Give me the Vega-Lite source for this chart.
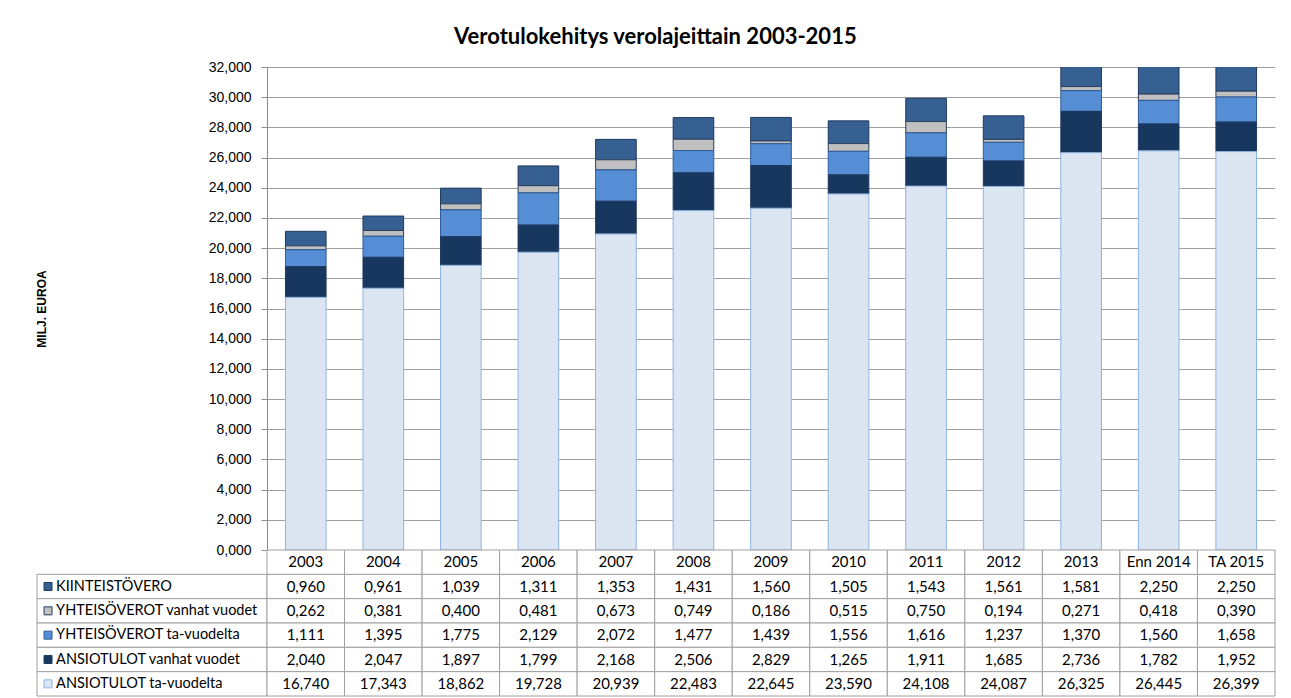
{
  "$schema": "https://vega.github.io/schema/vega-lite/v6.json",
  "padding": {"left": 35, "top": 26, "right": 12, "bottom": 0},
  "title": {"text": "Verotulokehitys verolajeittain 2003-2015", "font": "Lato", "fontSize": 22, "fontWeight": "bold", "color": "#000000", "offset": 11, "anchor": "middle"},
  "config": {
    "view": {"stroke": null},
    "locale": {"number": {"decimal": ",", "thousands": ".", "grouping": [3], "currency": ["", " €"]}}
  },
  "datasets": {
    "tax": [
      {"year": "2003", "series": "KIINTEISTÖVERO", "k": 5, "value": 0.960},
      {"year": "2003", "series": "YHTEISÖVEROT vanhat vuodet", "k": 4, "value": 0.262},
      {"year": "2003", "series": "YHTEISÖVEROT ta-vuodelta", "k": 3, "value": 1.111},
      {"year": "2003", "series": "ANSIOTULOT vanhat vuodet", "k": 2, "value": 2.040},
      {"year": "2003", "series": "ANSIOTULOT ta-vuodelta", "k": 1, "value": 16.740},
      {"year": "2004", "series": "KIINTEISTÖVERO", "k": 5, "value": 0.961},
      {"year": "2004", "series": "YHTEISÖVEROT vanhat vuodet", "k": 4, "value": 0.381},
      {"year": "2004", "series": "YHTEISÖVEROT ta-vuodelta", "k": 3, "value": 1.395},
      {"year": "2004", "series": "ANSIOTULOT vanhat vuodet", "k": 2, "value": 2.047},
      {"year": "2004", "series": "ANSIOTULOT ta-vuodelta", "k": 1, "value": 17.343},
      {"year": "2005", "series": "KIINTEISTÖVERO", "k": 5, "value": 1.039},
      {"year": "2005", "series": "YHTEISÖVEROT vanhat vuodet", "k": 4, "value": 0.400},
      {"year": "2005", "series": "YHTEISÖVEROT ta-vuodelta", "k": 3, "value": 1.775},
      {"year": "2005", "series": "ANSIOTULOT vanhat vuodet", "k": 2, "value": 1.897},
      {"year": "2005", "series": "ANSIOTULOT ta-vuodelta", "k": 1, "value": 18.862},
      {"year": "2006", "series": "KIINTEISTÖVERO", "k": 5, "value": 1.311},
      {"year": "2006", "series": "YHTEISÖVEROT vanhat vuodet", "k": 4, "value": 0.481},
      {"year": "2006", "series": "YHTEISÖVEROT ta-vuodelta", "k": 3, "value": 2.129},
      {"year": "2006", "series": "ANSIOTULOT vanhat vuodet", "k": 2, "value": 1.799},
      {"year": "2006", "series": "ANSIOTULOT ta-vuodelta", "k": 1, "value": 19.728},
      {"year": "2007", "series": "KIINTEISTÖVERO", "k": 5, "value": 1.353},
      {"year": "2007", "series": "YHTEISÖVEROT vanhat vuodet", "k": 4, "value": 0.673},
      {"year": "2007", "series": "YHTEISÖVEROT ta-vuodelta", "k": 3, "value": 2.072},
      {"year": "2007", "series": "ANSIOTULOT vanhat vuodet", "k": 2, "value": 2.168},
      {"year": "2007", "series": "ANSIOTULOT ta-vuodelta", "k": 1, "value": 20.939},
      {"year": "2008", "series": "KIINTEISTÖVERO", "k": 5, "value": 1.431},
      {"year": "2008", "series": "YHTEISÖVEROT vanhat vuodet", "k": 4, "value": 0.749},
      {"year": "2008", "series": "YHTEISÖVEROT ta-vuodelta", "k": 3, "value": 1.477},
      {"year": "2008", "series": "ANSIOTULOT vanhat vuodet", "k": 2, "value": 2.506},
      {"year": "2008", "series": "ANSIOTULOT ta-vuodelta", "k": 1, "value": 22.483},
      {"year": "2009", "series": "KIINTEISTÖVERO", "k": 5, "value": 1.560},
      {"year": "2009", "series": "YHTEISÖVEROT vanhat vuodet", "k": 4, "value": 0.186},
      {"year": "2009", "series": "YHTEISÖVEROT ta-vuodelta", "k": 3, "value": 1.439},
      {"year": "2009", "series": "ANSIOTULOT vanhat vuodet", "k": 2, "value": 2.829},
      {"year": "2009", "series": "ANSIOTULOT ta-vuodelta", "k": 1, "value": 22.645},
      {"year": "2010", "series": "KIINTEISTÖVERO", "k": 5, "value": 1.505},
      {"year": "2010", "series": "YHTEISÖVEROT vanhat vuodet", "k": 4, "value": 0.515},
      {"year": "2010", "series": "YHTEISÖVEROT ta-vuodelta", "k": 3, "value": 1.556},
      {"year": "2010", "series": "ANSIOTULOT vanhat vuodet", "k": 2, "value": 1.265},
      {"year": "2010", "series": "ANSIOTULOT ta-vuodelta", "k": 1, "value": 23.590},
      {"year": "2011", "series": "KIINTEISTÖVERO", "k": 5, "value": 1.543},
      {"year": "2011", "series": "YHTEISÖVEROT vanhat vuodet", "k": 4, "value": 0.750},
      {"year": "2011", "series": "YHTEISÖVEROT ta-vuodelta", "k": 3, "value": 1.616},
      {"year": "2011", "series": "ANSIOTULOT vanhat vuodet", "k": 2, "value": 1.911},
      {"year": "2011", "series": "ANSIOTULOT ta-vuodelta", "k": 1, "value": 24.108},
      {"year": "2012", "series": "KIINTEISTÖVERO", "k": 5, "value": 1.561},
      {"year": "2012", "series": "YHTEISÖVEROT vanhat vuodet", "k": 4, "value": 0.194},
      {"year": "2012", "series": "YHTEISÖVEROT ta-vuodelta", "k": 3, "value": 1.237},
      {"year": "2012", "series": "ANSIOTULOT vanhat vuodet", "k": 2, "value": 1.685},
      {"year": "2012", "series": "ANSIOTULOT ta-vuodelta", "k": 1, "value": 24.087},
      {"year": "2013", "series": "KIINTEISTÖVERO", "k": 5, "value": 1.581},
      {"year": "2013", "series": "YHTEISÖVEROT vanhat vuodet", "k": 4, "value": 0.271},
      {"year": "2013", "series": "YHTEISÖVEROT ta-vuodelta", "k": 3, "value": 1.370},
      {"year": "2013", "series": "ANSIOTULOT vanhat vuodet", "k": 2, "value": 2.736},
      {"year": "2013", "series": "ANSIOTULOT ta-vuodelta", "k": 1, "value": 26.325},
      {"year": "Enn 2014", "series": "KIINTEISTÖVERO", "k": 5, "value": 2.250},
      {"year": "Enn 2014", "series": "YHTEISÖVEROT vanhat vuodet", "k": 4, "value": 0.418},
      {"year": "Enn 2014", "series": "YHTEISÖVEROT ta-vuodelta", "k": 3, "value": 1.560},
      {"year": "Enn 2014", "series": "ANSIOTULOT vanhat vuodet", "k": 2, "value": 1.782},
      {"year": "Enn 2014", "series": "ANSIOTULOT ta-vuodelta", "k": 1, "value": 26.445},
      {"year": "TA 2015", "series": "KIINTEISTÖVERO", "k": 5, "value": 2.250},
      {"year": "TA 2015", "series": "YHTEISÖVEROT vanhat vuodet", "k": 4, "value": 0.390},
      {"year": "TA 2015", "series": "YHTEISÖVEROT ta-vuodelta", "k": 3, "value": 1.658},
      {"year": "TA 2015", "series": "ANSIOTULOT vanhat vuodet", "k": 2, "value": 1.952},
      {"year": "TA 2015", "series": "ANSIOTULOT ta-vuodelta", "k": 1, "value": 26.399}
    ]
  },
  "data": {"name": "tax"},
  "columns": 2,
  "spacing": 0,
  "bounds": "flush",
  "align": "each",
  "concat": [
    {
      "width": 230,
      "height": 483,
      "transform": [{"filter": "datum.k == 0"}],
      "mark": {"type": "point", "opacity": 0},
      "encoding": {}
    },
    {
      "width": 1008,
      "height": 483,
      "mark": {"type": "bar", "clip": true, "strokeWidth": 1},
      "encoding": {
        "x": {"field": "year", "type": "nominal", "sort": null,
              "scale": {"domain": ["2003","2004","2005","2006","2007","2008","2009","2010","2011","2012","2013","Enn 2014","TA 2015"], "paddingInner": 0.476, "paddingOuter": 0.238},
              "axis": null},
        "y": {"field": "value", "type": "quantitative", "stack": "zero",
              "scale": {"domain": [0, 32], "nice": false},
              "axis": {"values": [0,2,4,6,8,10,12,14,16,18,20,22,24,26,28,30,32], "format": ".3f",
                       "title": "MILJ. EUROA", "titleFont": "Liberation Sans", "titleFontSize": 12, "titleFontWeight": "bold", "titleColor": "#000000", "titlePadding": 160,
                       "labelFont": "Liberation Sans", "labelFontSize": 14, "labelColor": "#000000", "labelPadding": 10,
                       "tickSize": 6, "tickColor": "#8c8c8c", "domainColor": "#8c8c8c", "grid": true, "gridColor": "#a0a0a0", "gridWidth": 1}},
        "color": {"field": "series", "type": "nominal",
                  "scale": {"domain": ["ANSIOTULOT ta-vuodelta","ANSIOTULOT vanhat vuodet","YHTEISÖVEROT ta-vuodelta","YHTEISÖVEROT vanhat vuodet","KIINTEISTÖVERO"],
                            "range": ["#dce6f2","#17375e","#558ed5","#c0c0c0","#376092"]},
                  "legend": null},
        "stroke": {"field": "series", "type": "nominal",
                   "scale": {"domain": ["ANSIOTULOT ta-vuodelta","ANSIOTULOT vanhat vuodet","YHTEISÖVEROT ta-vuodelta","YHTEISÖVEROT vanhat vuodet","KIINTEISTÖVERO"],
                             "range": ["#8db3e2","#1f3a60","#2f5d99","#2a3f5f","#1f3a60"]},
                   "legend": null},
        "order": {"field": "k", "type": "quantitative"}
      }
    },
    {
      "width": 230,
      "height": 146,
      "transform": [{"filter": "datum.year == '2003'"}],
      "layer": [
        {
          "mark": {"type": "rect", "fill": "#ffffff", "stroke": "#a0a0a0", "strokeWidth": 1},
          "encoding": {
            "x": {"datum": 0, "type": "quantitative", "scale": {"domain": [0, 1], "nice": false}, "axis": null},
            "x2": {"datum": 1},
            "y": {"field": "series", "type": "nominal",
                  "scale": {"domain": ["hdr","KIINTEISTÖVERO","YHTEISÖVEROT vanhat vuodet","YHTEISÖVEROT ta-vuodelta","ANSIOTULOT vanhat vuodet","ANSIOTULOT ta-vuodelta"], "paddingInner": 0, "paddingOuter": 0},
                  "axis": null}
          }
        },
        {
          "mark": {"type": "point", "shape": "square", "filled": true, "size": 64, "strokeWidth": 1, "opacity": 1},
          "encoding": {
            "x": {"datum": 0.048, "type": "quantitative"},
            "y": {"field": "series", "type": "nominal"},
            "color": {"field": "series", "type": "nominal",
                      "scale": {"domain": ["ANSIOTULOT ta-vuodelta","ANSIOTULOT vanhat vuodet","YHTEISÖVEROT ta-vuodelta","YHTEISÖVEROT vanhat vuodet","KIINTEISTÖVERO"],
                                "range": ["#dce6f2","#17375e","#558ed5","#c0c0c0","#376092"]},
                      "legend": null},
            "stroke": {"field": "series", "type": "nominal",
                       "scale": {"domain": ["ANSIOTULOT ta-vuodelta","ANSIOTULOT vanhat vuodet","YHTEISÖVEROT ta-vuodelta","YHTEISÖVEROT vanhat vuodet","KIINTEISTÖVERO"],
                                 "range": ["#8db3e2","#1f3a60","#2f5d99","#555555","#1f3a60"]},
                       "legend": null}
          }
        },
        {
          "mark": {"type": "text", "align": "left", "baseline": "middle", "font": "Lato", "fontSize": 14.5, "color": "#000000"},
          "encoding": {
            "x": {"datum": 0.083, "type": "quantitative"},
            "y": {"field": "series", "type": "nominal"},
            "text": {"field": "series", "type": "nominal"}
          }
        }
      ]
    },
    {
      "width": 1008,
      "height": 146,
      "encoding": {
        "x": {"field": "year", "type": "nominal", "sort": null,
              "scale": {"domain": ["2003","2004","2005","2006","2007","2008","2009","2010","2011","2012","2013","Enn 2014","TA 2015"], "paddingInner": 0, "paddingOuter": 0},
              "axis": null}
      },
      "layer": [
        {
          "mark": {"type": "rect", "fill": "#ffffff", "stroke": "#a0a0a0", "strokeWidth": 1},
          "encoding": {
            "y": {"field": "series", "type": "nominal",
                  "scale": {"domain": ["hdr","KIINTEISTÖVERO","YHTEISÖVEROT vanhat vuodet","YHTEISÖVEROT ta-vuodelta","ANSIOTULOT vanhat vuodet","ANSIOTULOT ta-vuodelta"], "paddingInner": 0, "paddingOuter": 0},
                  "axis": null}
          }
        },
        {
          "transform": [{"filter": "datum.k == 5"}],
          "mark": {"type": "rect", "fill": "#ffffff", "stroke": "#a0a0a0", "strokeWidth": 1},
          "encoding": {
            "y": {"datum": "hdr", "type": "nominal"}
          }
        },
        {
          "mark": {"type": "text", "align": "center", "baseline": "middle", "font": "Lato", "fontSize": 15, "color": "#000000"},
          "encoding": {
            "y": {"field": "series", "type": "nominal"},
            "text": {"field": "value", "type": "quantitative", "format": ".3f"}
          }
        },
        {
          "transform": [{"filter": "datum.k == 5"}],
          "mark": {"type": "text", "align": "center", "baseline": "middle", "font": "Lato", "fontSize": 15, "color": "#000000"},
          "encoding": {
            "y": {"datum": "hdr", "type": "nominal"},
            "text": {"field": "year", "type": "nominal"}
          }
        }
      ]
    }
  ]
}
